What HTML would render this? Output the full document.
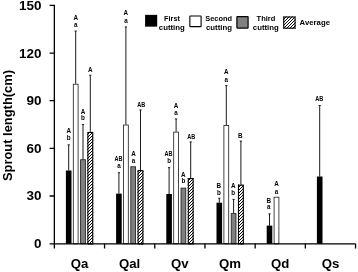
<!DOCTYPE html>
<html><head><meta charset="utf-8"><title>Sprout length</title>
<style>
html,body{margin:0;padding:0;background:#fff;}
svg{display:block;font-family:"Liberation Sans",sans-serif;font-weight:bold;fill:#000;}
.s{font-size:6.3px;text-anchor:middle;}
.y{font-size:12.9px;text-anchor:end;}
.x{font-size:13.2px;text-anchor:middle;}
.l{font-size:7.8px;text-anchor:middle;}
</style></head><body>
<svg width="358" height="272" viewBox="0 0 358 272">
<defs>

</defs>
<rect width="358" height="272" fill="#fff"/>

<path d="M68.70 170.50V144.85M67.60 144.85h2.2" stroke="#1a1a1a" stroke-width="1" fill="none"/>
<path d="M75.70 83.80V31.05M74.60 31.05h2.2" stroke="#1a1a1a" stroke-width="1" fill="none"/>
<path d="M83.00 159.30V124.45M81.90 124.45h2.2" stroke="#1a1a1a" stroke-width="1" fill="none"/>
<path d="M90.30 131.90V75.25M89.20 75.25h2.2" stroke="#1a1a1a" stroke-width="1" fill="none"/>
<path d="M118.90 193.60V172.75M117.80 172.75h2.2" stroke="#1a1a1a" stroke-width="1" fill="none"/>
<path d="M125.90 124.60V26.95M124.80 26.95h2.2" stroke="#1a1a1a" stroke-width="1" fill="none"/>
<path d="M140.50 170.10V109.95M139.40 109.95h2.2" stroke="#1a1a1a" stroke-width="1" fill="none"/>
<path d="M169.10 194.00V167.65M168.00 167.65h2.2" stroke="#1a1a1a" stroke-width="1" fill="none"/>
<path d="M176.10 131.70V118.95M175.00 118.95h2.2" stroke="#1a1a1a" stroke-width="1" fill="none"/>
<path d="M190.70 178.10V141.95M189.60 141.95h2.2" stroke="#1a1a1a" stroke-width="1" fill="none"/>
<path d="M219.30 202.70V198.25M218.20 198.25h2.2" stroke="#1a1a1a" stroke-width="1" fill="none"/>
<path d="M226.30 125.10V85.65M225.20 85.65h2.2" stroke="#1a1a1a" stroke-width="1" fill="none"/>
<path d="M233.60 213.20V199.45M232.50 199.45h2.2" stroke="#1a1a1a" stroke-width="1" fill="none"/>
<path d="M240.90 184.60V141.15M239.80 141.15h2.2" stroke="#1a1a1a" stroke-width="1" fill="none"/>
<path d="M269.50 225.60V213.85M268.40 213.85h2.2" stroke="#1a1a1a" stroke-width="1" fill="none"/>
<path d="M319.70 176.50V105.55M318.60 105.55h2.2" stroke="#1a1a1a" stroke-width="1" fill="none"/>
<rect x="65.90" y="170.50" width="5.6" height="73.30" fill="#000"/>
<rect x="73.30" y="84.20" width="4.80" height="159.60" fill="#fff" stroke="#1a1a1a" stroke-width="0.8"/>
<rect x="80.60" y="159.70" width="4.80" height="84.10" fill="#808080" stroke="#1a1a1a" stroke-width="0.8"/>
<clipPath id="c1"><rect x="87.35" y="131.90" width="5.90" height="112.50"/></clipPath><rect x="87.35" y="131.90" width="5.90" height="112.50" fill="#fff"/><path d="M86.35 132.65L94.25 124.75M86.35 135.65L94.25 127.75M86.35 138.65L94.25 130.75M86.35 141.65L94.25 133.75M86.35 144.65L94.25 136.75M86.35 147.65L94.25 139.75M86.35 150.65L94.25 142.75M86.35 153.65L94.25 145.75M86.35 156.65L94.25 148.75M86.35 159.65L94.25 151.75M86.35 162.65L94.25 154.75M86.35 165.65L94.25 157.75M86.35 168.65L94.25 160.75M86.35 171.65L94.25 163.75M86.35 174.65L94.25 166.75M86.35 177.65L94.25 169.75M86.35 180.65L94.25 172.75M86.35 183.65L94.25 175.75M86.35 186.65L94.25 178.75M86.35 189.65L94.25 181.75M86.35 192.65L94.25 184.75M86.35 195.65L94.25 187.75M86.35 198.65L94.25 190.75M86.35 201.65L94.25 193.75M86.35 204.65L94.25 196.75M86.35 207.65L94.25 199.75M86.35 210.65L94.25 202.75M86.35 213.65L94.25 205.75M86.35 216.65L94.25 208.75M86.35 219.65L94.25 211.75M86.35 222.65L94.25 214.75M86.35 225.65L94.25 217.75M86.35 228.65L94.25 220.75M86.35 231.65L94.25 223.75M86.35 234.65L94.25 226.75M86.35 237.65L94.25 229.75M86.35 240.65L94.25 232.75M86.35 243.65L94.25 235.75M86.35 246.65L94.25 238.75M86.35 249.65L94.25 241.75M86.35 252.65L94.25 244.75" stroke="#000" stroke-width="1.0" fill="none" clip-path="url(#c1)"/><rect x="87.90" y="132.45" width="4.80" height="111.40" fill="none" stroke="#000" stroke-width="1.1"/>
<rect x="116.10" y="193.60" width="5.6" height="50.20" fill="#000"/>
<rect x="123.50" y="125.00" width="4.80" height="118.80" fill="#fff" stroke="#1a1a1a" stroke-width="0.8"/>
<rect x="130.80" y="166.80" width="4.80" height="77.00" fill="#808080" stroke="#1a1a1a" stroke-width="0.8"/>
<clipPath id="c2"><rect x="137.55" y="170.10" width="5.90" height="74.30"/></clipPath><rect x="137.55" y="170.10" width="5.90" height="74.30" fill="#fff"/><path d="M136.55 169.45L144.45 161.55M136.55 172.45L144.45 164.55M136.55 175.45L144.45 167.55M136.55 178.45L144.45 170.55M136.55 181.45L144.45 173.55M136.55 184.45L144.45 176.55M136.55 187.45L144.45 179.55M136.55 190.45L144.45 182.55M136.55 193.45L144.45 185.55M136.55 196.45L144.45 188.55M136.55 199.45L144.45 191.55M136.55 202.45L144.45 194.55M136.55 205.45L144.45 197.55M136.55 208.45L144.45 200.55M136.55 211.45L144.45 203.55M136.55 214.45L144.45 206.55M136.55 217.45L144.45 209.55M136.55 220.45L144.45 212.55M136.55 223.45L144.45 215.55M136.55 226.45L144.45 218.55M136.55 229.45L144.45 221.55M136.55 232.45L144.45 224.55M136.55 235.45L144.45 227.55M136.55 238.45L144.45 230.55M136.55 241.45L144.45 233.55M136.55 244.45L144.45 236.55M136.55 247.45L144.45 239.55M136.55 250.45L144.45 242.55M136.55 253.45L144.45 245.55" stroke="#000" stroke-width="1.0" fill="none" clip-path="url(#c2)"/><rect x="138.10" y="170.65" width="4.80" height="73.20" fill="none" stroke="#000" stroke-width="1.1"/>
<rect x="166.30" y="194.00" width="5.6" height="49.80" fill="#000"/>
<rect x="173.70" y="132.10" width="4.80" height="111.70" fill="#fff" stroke="#1a1a1a" stroke-width="0.8"/>
<rect x="181.00" y="188.10" width="4.80" height="55.70" fill="#808080" stroke="#1a1a1a" stroke-width="0.8"/>
<clipPath id="c3"><rect x="187.75" y="178.10" width="5.90" height="66.30"/></clipPath><rect x="187.75" y="178.10" width="5.90" height="66.30" fill="#fff"/><path d="M186.75 176.25L194.65 168.35M186.75 179.25L194.65 171.35M186.75 182.25L194.65 174.35M186.75 185.25L194.65 177.35M186.75 188.25L194.65 180.35M186.75 191.25L194.65 183.35M186.75 194.25L194.65 186.35M186.75 197.25L194.65 189.35M186.75 200.25L194.65 192.35M186.75 203.25L194.65 195.35M186.75 206.25L194.65 198.35M186.75 209.25L194.65 201.35M186.75 212.25L194.65 204.35M186.75 215.25L194.65 207.35M186.75 218.25L194.65 210.35M186.75 221.25L194.65 213.35M186.75 224.25L194.65 216.35M186.75 227.25L194.65 219.35M186.75 230.25L194.65 222.35M186.75 233.25L194.65 225.35M186.75 236.25L194.65 228.35M186.75 239.25L194.65 231.35M186.75 242.25L194.65 234.35M186.75 245.25L194.65 237.35M186.75 248.25L194.65 240.35M186.75 251.25L194.65 243.35M186.75 254.25L194.65 246.35" stroke="#000" stroke-width="1.0" fill="none" clip-path="url(#c3)"/><rect x="188.30" y="178.65" width="4.80" height="65.20" fill="none" stroke="#000" stroke-width="1.1"/>
<rect x="216.50" y="202.70" width="5.6" height="41.10" fill="#000"/>
<rect x="223.90" y="125.50" width="4.80" height="118.30" fill="#fff" stroke="#1a1a1a" stroke-width="0.8"/>
<rect x="231.20" y="213.60" width="4.80" height="30.20" fill="#808080" stroke="#1a1a1a" stroke-width="0.8"/>
<clipPath id="c4"><rect x="237.95" y="184.60" width="5.90" height="59.80"/></clipPath><rect x="237.95" y="184.60" width="5.90" height="59.80" fill="#fff"/><path d="M236.95 183.05L244.85 175.15M236.95 186.05L244.85 178.15M236.95 189.05L244.85 181.15M236.95 192.05L244.85 184.15M236.95 195.05L244.85 187.15M236.95 198.05L244.85 190.15M236.95 201.05L244.85 193.15M236.95 204.05L244.85 196.15M236.95 207.05L244.85 199.15M236.95 210.05L244.85 202.15M236.95 213.05L244.85 205.15M236.95 216.05L244.85 208.15M236.95 219.05L244.85 211.15M236.95 222.05L244.85 214.15M236.95 225.05L244.85 217.15M236.95 228.05L244.85 220.15M236.95 231.05L244.85 223.15M236.95 234.05L244.85 226.15M236.95 237.05L244.85 229.15M236.95 240.05L244.85 232.15M236.95 243.05L244.85 235.15M236.95 246.05L244.85 238.15M236.95 249.05L244.85 241.15M236.95 252.05L244.85 244.15" stroke="#000" stroke-width="1.0" fill="none" clip-path="url(#c4)"/><rect x="238.50" y="185.15" width="4.80" height="58.70" fill="none" stroke="#000" stroke-width="1.1"/>
<rect x="266.70" y="225.60" width="5.6" height="18.20" fill="#000"/>
<rect x="274.10" y="197.20" width="4.80" height="46.60" fill="#fff" stroke="#1a1a1a" stroke-width="0.8"/>
<rect x="316.90" y="176.50" width="5.6" height="67.30" fill="#000"/>
<path d="M54.35 4.75V248.5M49.6 5.4H54.35M49.6 53.05H54.35M49.6 100.7H54.35M49.6 148.35H54.35M49.6 196H54.35M49.6 243.8H355.6" stroke="#000" stroke-width="1.3" fill="none"/>
<path d="M104.55 243.8V248.5M154.75 243.8V248.5M204.95 243.8V248.5M255.15 243.8V248.5M305.35 243.8V248.5M355.55 243.8V248.5" stroke="#000" stroke-width="1.3" fill="none"/>
<text class="y" x="41.5" y="9.85" textLength="22.5" lengthAdjust="spacingAndGlyphs">150</text>
<text class="y" x="41.5" y="57.50" textLength="22.5" lengthAdjust="spacingAndGlyphs">120</text>
<text class="y" x="41.5" y="105.15" textLength="15.0" lengthAdjust="spacingAndGlyphs">90</text>
<text class="y" x="41.5" y="152.80" textLength="15.0" lengthAdjust="spacingAndGlyphs">60</text>
<text class="y" x="41.5" y="200.45" textLength="15.0" lengthAdjust="spacingAndGlyphs">30</text>
<text class="y" x="41.5" y="248.10" textLength="7.5" lengthAdjust="spacingAndGlyphs">0</text>
<text class="x" x="79.45" y="267.5">Qa</text>
<text class="x" x="129.65" y="267.5">Qal</text>
<text class="x" x="179.85" y="267.5">Qv</text>
<text class="x" x="230.05" y="267.5">Qm</text>
<text class="x" x="280.25" y="267.5">Qd</text>
<text class="x" x="330.45" y="267.5">Qs</text>
<text transform="translate(11.8 181) rotate(-90)" font-size="12.8" textLength="111" lengthAdjust="spacingAndGlyphs">Sprout length(cm)</text>
<text class="s" x="68.70" y="132.85">A</text>
<text class="s" x="68.70" y="139.55">b</text>
<text class="s" x="75.70" y="19.85">A</text>
<text class="s" x="75.70" y="26.70">a</text>
<text class="s" x="83.00" y="114.05">A</text>
<text class="s" x="83.00" y="120.35">b</text>
<text class="s" x="90.30" y="71.85">A</text>
<text class="s" x="118.50" y="160.75" textLength="8" lengthAdjust="spacingAndGlyphs">AB</text>
<text class="s" x="118.90" y="168.10">a</text>
<text class="s" x="125.90" y="15.35">A</text>
<text class="s" x="125.90" y="23.20">a</text>
<text class="s" x="133.50" y="155.65">A</text>
<text class="s" x="133.50" y="162.70">a</text>
<text class="s" x="141.20" y="106.95" textLength="8" lengthAdjust="spacingAndGlyphs">AB</text>
<text class="s" x="168.50" y="156.15" textLength="8" lengthAdjust="spacingAndGlyphs">AB</text>
<text class="s" x="169.10" y="163.35">b</text>
<text class="s" x="176.10" y="107.95">A</text>
<text class="s" x="176.10" y="115.20">a</text>
<text class="s" x="183.40" y="176.55">A</text>
<text class="s" x="183.40" y="183.35">b</text>
<text class="s" x="191.30" y="139.45" textLength="8" lengthAdjust="spacingAndGlyphs">AB</text>
<text class="s" x="218.90" y="187.75">B</text>
<text class="s" x="218.90" y="194.65">b</text>
<text class="s" x="226.30" y="74.05">A</text>
<text class="s" x="226.30" y="81.50">a</text>
<text class="s" x="233.30" y="188.25">A</text>
<text class="s" x="233.30" y="194.95">b</text>
<text class="s" x="240.40" y="138.35">B</text>
<text class="s" x="268.70" y="202.55">B</text>
<text class="s" x="268.70" y="209.40">a</text>
<text class="s" x="276.50" y="185.75">A</text>
<text class="s" x="276.50" y="193.50">a</text>
<text class="s" x="319.20" y="101.25" textLength="8" lengthAdjust="spacingAndGlyphs">AB</text>
<rect x="145.1" y="14.85" width="12.1" height="11.8" fill="#000"/>
<rect x="189.85" y="16.05" width="11.25" height="10.6" rx="0.4" fill="#fff" stroke="#000" stroke-width="1.1"/>
<rect x="236.9" y="16.6" width="11.2" height="11.5" rx="0.5" fill="#808080" stroke="#000" stroke-width="1.2"/>
<clipPath id="c5"><rect x="283.20" y="16.45" width="12.40" height="12.25"/></clipPath><rect x="283.20" y="16.45" width="12.40" height="12.25" fill="#fff"/><path d="M282.20 14.80L296.60 0.40M282.20 17.80L296.60 3.40M282.20 20.80L296.60 6.40M282.20 23.80L296.60 9.40M282.20 26.80L296.60 12.40M282.20 29.80L296.60 15.40M282.20 32.80L296.60 18.40M282.20 35.80L296.60 21.40M282.20 38.80L296.60 24.40M282.20 41.80L296.60 27.40M282.20 44.80L296.60 30.40" stroke="#000" stroke-width="1.0" fill="none" clip-path="url(#c5)"/><rect x="283.75" y="17.00" width="11.30" height="11.15" fill="none" stroke="#000" stroke-width="1.1"/>
<text class="l" x="172" y="20.6" textLength="15.9" lengthAdjust="spacingAndGlyphs">First</text><text class="l" x="171.8" y="29.7">cutting</text>
<text class="l" x="218.7" y="20.6" textLength="26.8" lengthAdjust="spacingAndGlyphs">Second</text><text class="l" x="219" y="29.7">cutting</text>
<text class="l" x="266" y="21.2" textLength="18.8" lengthAdjust="spacingAndGlyphs">Third</text><text class="l" x="265.8" y="30.1">cutting</text>
<text class="l" x="314.8" y="25.2" textLength="30.4" lengthAdjust="spacingAndGlyphs">Average</text>
</svg></body></html>
